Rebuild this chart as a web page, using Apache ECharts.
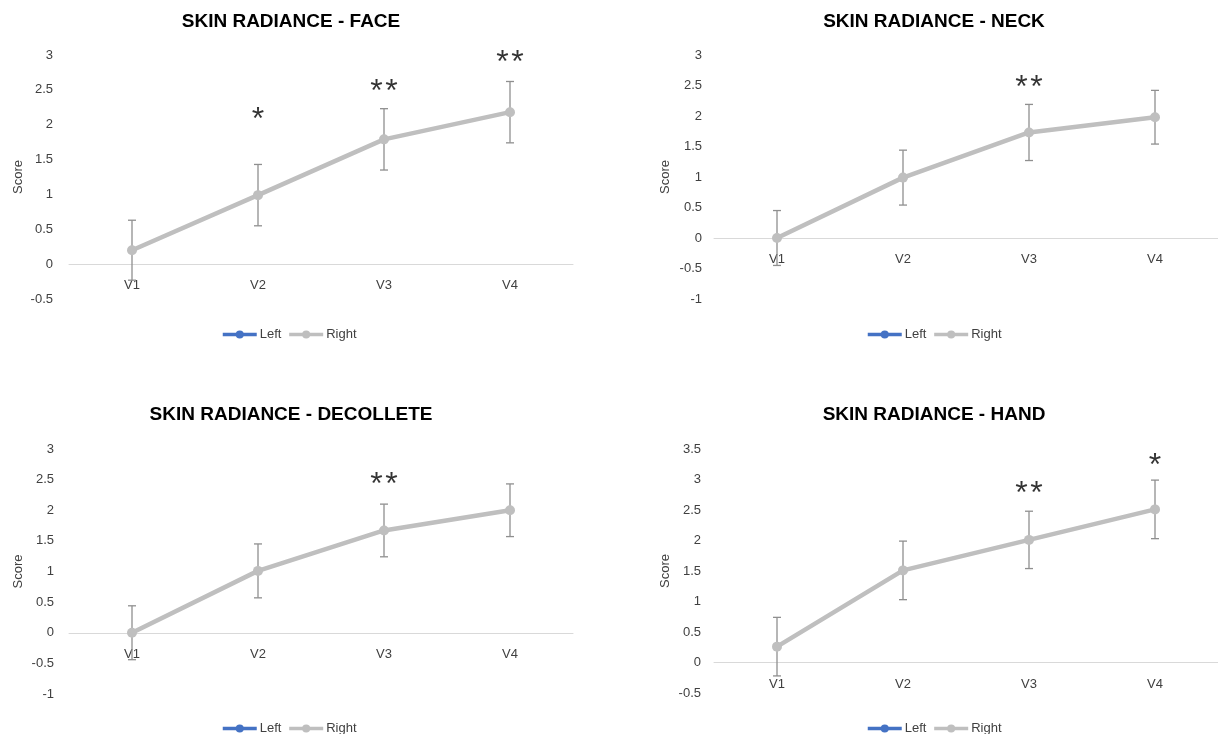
<!DOCTYPE html>
<html>
<head>
<meta charset="utf-8">
<script src="https://cdn.jsdelivr.net/npm/echarts@6/dist/echarts.min.js"></script>
<style>
  html, body { margin: 0; padding: 0; background: #fff; }
  #chart { width: 1218px; height: 734px; }
</style>
</head>
<body>
<div id="chart"></div>
<script>
// visits on the x axis
var categories = ['V1', 'V2', 'V3', 'V4'];

// mean scores (Left sits under Right, same values)
var faceLeft = [0.2, 0.99, 1.79, 2.18];
var faceRight = [0.2, 0.99, 1.79, 2.18];
var faceErr = [0.43, 0.44, 0.44, 0.44];
var faceStars = ['', '*', '**', '**'];
var faceStarY = [null, 2.17, 2.57, 2.98];

var neckLeft = [0, 0.99, 1.73, 1.98];
var neckRight = [0, 0.99, 1.73, 1.98];
var neckErr = [0.45, 0.45, 0.46, 0.44];
var neckStars = ['', '', '**', ''];
var neckStarY = [null, null, 2.57, null];

var decolleteLeft = [0, 1.01, 1.67, 2.0];
var decolleteRight = [0, 1.01, 1.67, 2.0];
var decolleteErr = [0.44, 0.44, 0.43, 0.43];
var decolleteStars = ['', '', '**', ''];
var decolleteStarY = [null, null, 2.53, null];

var handLeft = [0.26, 1.51, 2.01, 2.51];
var handRight = [0.26, 1.51, 2.01, 2.51];
var handErr = [0.48, 0.48, 0.47, 0.48];
var handStars = ['', '', '**', '*'];
var handStarY = [null, null, 2.88, 3.34];

var FONT = 'Liberation Sans';
var TEXT = '#404040';

var panels = [
    { title: 'SKIN RADIANCE - FACE', left: faceLeft, right: faceRight, err: faceErr,
      stars: faceStars, starY: faceStarY, min: -0.5, max: 3,
      grid: { left: 69, top: 55, width: 504, height: 244 },
      titleX: 291, titleY: 12, legendX: 221, legendY: 328, nameGap: 44, labelMargin: 16 },
    { title: 'SKIN RADIANCE - NECK', left: neckLeft, right: neckRight, err: neckErr,
      stars: neckStars, starY: neckStarY, min: -1, max: 3,
      grid: { left: 714, top: 55, width: 506, height: 244 },
      titleX: 934, titleY: 12, legendX: 866, legendY: 328, nameGap: 42, labelMargin: 12 },
    { title: 'SKIN RADIANCE - DECOLLETE', left: decolleteLeft, right: decolleteRight, err: decolleteErr,
      stars: decolleteStars, starY: decolleteStarY, min: -1, max: 3,
      grid: { left: 69, top: 449, width: 504, height: 245 },
      titleX: 291, titleY: 405, legendX: 221, legendY: 722, nameGap: 44, labelMargin: 15 },
    { title: 'SKIN RADIANCE - HAND', left: handLeft, right: handRight, err: handErr,
      stars: handStars, starY: handStarY, min: -0.5, max: 3.5,
      grid: { left: 714, top: 449, width: 506, height: 244 },
      titleX: 934, titleY: 405, legendX: 866, legendY: 722, nameGap: 42, labelMargin: 13 }
];

function renderErrorBar(params, api) {
    var idx = api.value(0);
    var top = api.coord([idx, api.value(2)]);
    var bot = api.coord([idx, api.value(1)]);
    var half = 4;
    var style = { stroke: '#8f8f8f', lineWidth: 1.3 };
    return {
        type: 'group',
        children: [
            { type: 'line', shape: { x1: top[0], y1: top[1], x2: bot[0], y2: bot[1] }, style: style },
            { type: 'line', shape: { x1: top[0] - half, y1: top[1], x2: top[0] + half, y2: top[1] }, style: style },
            { type: 'line', shape: { x1: bot[0] - half, y1: bot[1], x2: bot[0] + half, y2: bot[1] }, style: style }
        ]
    };
}

var option = {
    animation: false,
    backgroundColor: '#fff',
    title: [], legend: [], grid: [], xAxis: [], yAxis: [], series: []
};

panels.forEach(function (p, i) {
    option.title.push({
        text: p.title, left: p.titleX, top: p.titleY, padding: 0, textAlign: 'center',
        textStyle: { fontFamily: FONT, fontWeight: 'bold', fontSize: 19, color: '#000' }
    });
    option.legend.push({
        data: ['Left', 'Right'], left: p.legendX, top: p.legendY, padding: 0,
        itemWidth: 34, itemHeight: 10, itemGap: 6,
        lineStyle: { width: 3.5 },
        textStyle: { fontFamily: FONT, fontSize: 13, color: TEXT, padding: [0, 0, 0, -2] }
    });
    option.grid.push(p.grid);
    // axis sits on the zero line, labels go with it
    var zeroShift = -(0 - p.min) / (p.max - p.min) * p.grid.height;
    option.xAxis.push({
        type: 'category', gridIndex: i, data: categories, boundaryGap: true,
        position: 'bottom', offset: zeroShift,
        axisLine: { onZero: false, lineStyle: { color: '#d9d9d9', width: 1 } },
        axisTick: { show: false },
        axisLabel: { fontFamily: FONT, fontSize: 13, color: TEXT, margin: 15 },
        splitLine: { show: false }
    });
    option.yAxis.push({
        type: 'value', gridIndex: i, min: p.min, max: p.max, interval: 0.5,
        name: 'Score', nameLocation: 'middle', nameGap: p.nameGap,
        nameTextStyle: { fontFamily: FONT, fontSize: 13, color: TEXT },
        axisLine: { show: false }, axisTick: { show: false }, splitLine: { show: false },
        axisLabel: { fontFamily: FONT, fontSize: 13, color: TEXT, margin: p.labelMargin }
    });

    var errData = p.right.map(function (v, k) {
        return [k, +(v - p.err[k]).toFixed(3), +(v + p.err[k]).toFixed(3)];
    });
    option.series.push({
        type: 'custom', name: 'err', xAxisIndex: i, yAxisIndex: i, z: 1, silent: true,
        renderItem: renderErrorBar, data: errData
    });
    option.series.push({
        type: 'line', name: 'Left', xAxisIndex: i, yAxisIndex: i, z: 2,
        data: p.left, symbol: 'circle', symbolSize: 7,
        lineStyle: { color: '#4472c4', width: 2.5 }, itemStyle: { color: '#4472c4' }
    });
    option.series.push({
        type: 'line', name: 'Right', xAxisIndex: i, yAxisIndex: i, z: 3,
        data: p.right, symbol: 'circle', symbolSize: 10,
        lineStyle: { color: '#bfbfbf', width: 4.5 }, itemStyle: { color: '#bfbfbf' }
    });

    var starData = [];
    p.stars.forEach(function (s, k) {
        if (s) starData.push([k, p.starY[k], s]);
    });
    option.series.push({
        type: 'scatter', name: 'sig', xAxisIndex: i, yAxisIndex: i, z: 4, silent: true,
        data: starData, symbolSize: 1, itemStyle: { color: 'rgba(0,0,0,0)' },
        label: {
            show: true, position: 'inside', offset: [0, 7],
            formatter: function (d) { return d.data[2].split('').join('\u200a'); },
            fontFamily: FONT, fontSize: 32, color: '#000'
        }
    });
});

var chart = echarts.init(document.getElementById('chart'));
chart.setOption(option);
</script>
</body>
</html>
